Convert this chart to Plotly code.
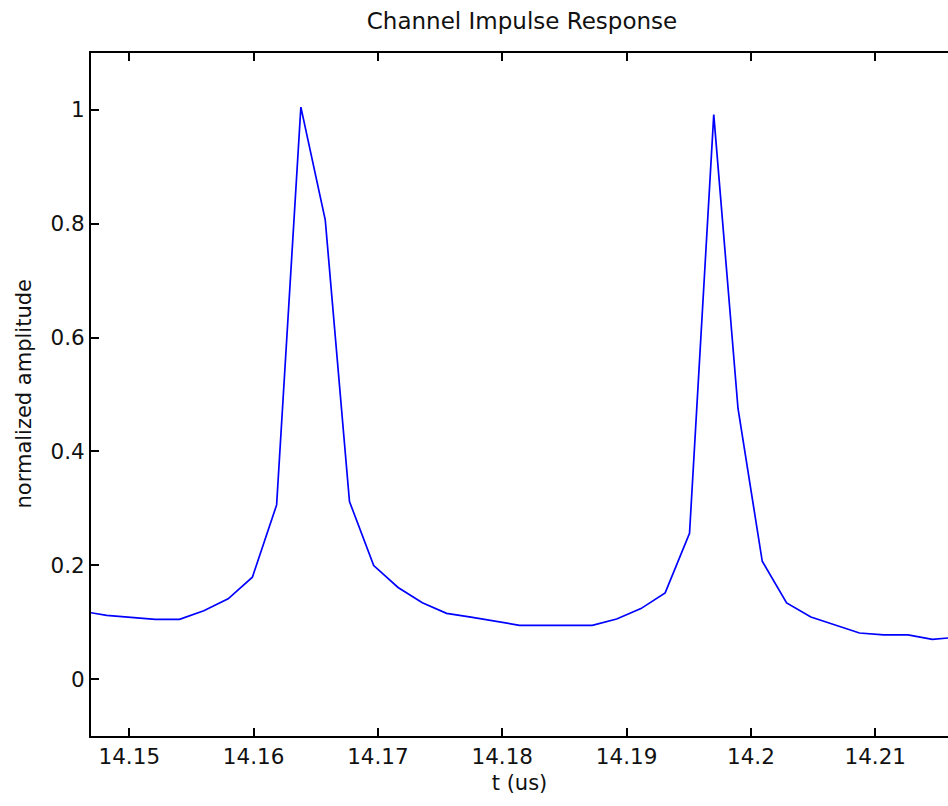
import plotly.graph_objects as go

# sample times (us) and normalized amplitudes
t_us = [14.14623, 14.14818, 14.15013, 14.15209, 14.15404, 14.15599, 14.15795,
        14.15990, 14.16185, 14.16380, 14.16576, 14.16771, 14.16966, 14.17162,
        14.17357, 14.17552, 14.17748, 14.17943, 14.18138, 14.18334, 14.18529,
        14.18724, 14.18920, 14.19115, 14.19310, 14.19506, 14.19701, 14.19896,
        14.20091, 14.20287, 14.20482, 14.20677, 14.20873, 14.21068, 14.21263,
        14.21459, 14.21654]
amplitude = [0.119, 0.112, 0.1085, 0.105, 0.105, 0.120, 0.141,
             0.179, 0.306, 1.005, 0.807, 0.312, 0.1995, 0.161,
             0.134, 0.1155, 0.109, 0.102, 0.0944, 0.0944, 0.0944,
             0.0944, 0.1056, 0.1238, 0.1514, 0.256, 0.9917, 0.4754,
             0.207, 0.1338, 0.109, 0.095, 0.081, 0.0775, 0.0775,
             0.0697, 0.0735]

x_ticks = [14.15, 14.16, 14.17, 14.18, 14.19, 14.20, 14.21]
x_tick_labels = ["14.15", "14.16", "14.17", "14.18", "14.19", "14.2", "14.21"]
y_ticks = [0, 0.2, 0.4, 0.6, 0.8, 1.0]
y_tick_labels = ["0", "0.2", "0.4", "0.6", "0.8", "1"]

FONT = "DejaVu Sans"
W, H = 948, 806
ML, MR, MT, MB = 91, 0, 53, 70

fig = go.Figure()
fig.add_trace(go.Scatter(x=t_us, y=amplitude, mode="lines",
                         line=dict(color="#0000FF", width=1.7),
                         showlegend=False, hoverinfo="skip"))

fig.update_layout(
    width=W, height=H,
    margin=dict(l=ML, r=MR, t=MT, b=MB),
    paper_bgcolor="white", plot_bgcolor="white",
    font=dict(family=FONT, color="black", size=21),
    title=dict(text="Channel Impulse Response", x=522 / W, xref="container",
               xanchor="center", y=1 - 21 / H, yref="container",
               yanchor="middle", font=dict(family=FONT, size=23, color="#111111")),
    xaxis=dict(range=[14.14692, 14.21585], showgrid=False, zeroline=False,
               showline=True, linecolor="black", linewidth=2, mirror="ticks",
               ticks="inside", ticklen=8, tickwidth=1.5, tickcolor="black",
               tickvals=x_ticks, ticktext=x_tick_labels,
               tickfont=dict(family=FONT, size=21.5, color="#111111"),
               title=dict(text="t (us)", standoff=8,
                          font=dict(family=FONT, size=21, color="#111111"))),
    yaxis=dict(range=[-0.1, 1.1], showgrid=False, zeroline=False,
               showline=True, linecolor="black", linewidth=2, mirror=False,
               ticks="inside", ticklen=8, tickwidth=1.5, tickcolor="black",
               tickvals=y_ticks, ticktext=y_tick_labels,
               tickfont=dict(family=FONT, size=21.5, color="#111111")),
)

# y-axis title placed as a rotated annotation
fig.add_annotation(text="normalized amplitude", textangle=-90,
                   xref="paper", yref="paper",
                   x=(23 - ML) / (W - ML - MR), y=0.5,
                   xanchor="center", yanchor="middle", showarrow=False,
                   font=dict(family=FONT, size=21, color="#111111"))

fig.write_html("out.html", config={"displayModeBar": False},
               post_script="document.body.style.margin='0';"
                           "document.body.style.overflow='hidden';")
